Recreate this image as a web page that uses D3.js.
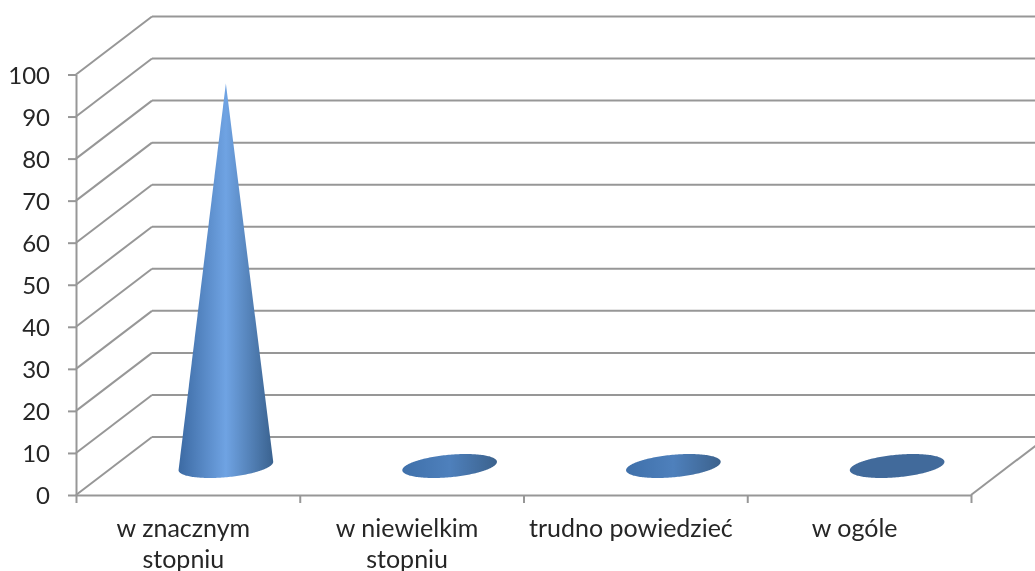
<!DOCTYPE html>
<html>
<head>
<meta charset="utf-8">
<script src="https://cdn.jsdelivr.net/npm/d3@7"></script>
<style>
  html, body { margin: 0; padding: 0; background: #fff; overflow: hidden; }
  text { font-family: Lato, "Open Sans", sans-serif; fill: #262626; }
  svg { filter: blur(0.45px); }
</style>
</head>
<body>
<main></main>
<script>
const categories = ['w znacznym', 'w niewielkim', 'trudno powiedzieć', 'w ogóle']
const categoryLabels = [['w znacznym', 'stopniu'], ['w niewielkim', 'stopniu'], ['trudno powiedzieć'], ['w ogóle']]
const values = [91, 2.5, 2.5, 0]
const yTicks = [0, 10, 20, 30, 40, 50, 60, 70, 80, 90, 100]

const width = 1035
const height = 571
const plot = { left: 76, right: 971, top: 74.5, bottom: 495 }
const depth = { x: 76, y: -58 }
const gridColor = '#979797'
const base = { rx: 47.5, ry: 11.2, angle: -5.3 }

const svg = d3.select('main')
              .append('svg')
              .attr('width', width)
              .attr('height', height)
              .style('display', 'block')

const x = d3.scaleBand()
            .domain(categories)
            .range([plot.left, plot.right])
const xEdges = d3.scaleLinear()
                 .domain([0, categories.length])
                 .range([plot.left, plot.right])
const y = d3.scaleLinear()
            .domain([0, 100])
            .range([plot.bottom, plot.top])

const defs = svg.append('defs')

const addGradient = (id, stops) => {
  defs.append('linearGradient')
      .attr('id', id)
      .selectAll('stop')
      .data(stops)
      .enter()
      .append('stop')
      .attr('offset', d => d[0])
      .attr('stop-color', d => d[1])
}
addGradient('coneTall', [[0, '#3c6aa3'], [0.5, '#6fa3e3'], [1, '#3a628f']])
addGradient('coneLow', [[0, '#3f70aa'], [0.5, '#4e80bc'], [1, '#3c628d']])

// side wall and back wall gridlines
const grid = svg.append('g')
grid.selectAll('.side')
    .data(yTicks)
    .enter()
    .append('line')
    .attr('x1', plot.left)
    .attr('y1', d => y(d))
    .attr('x2', plot.left + depth.x)
    .attr('y2', d => y(d) + depth.y)
    .attr('stroke', gridColor)
    .attr('stroke-width', 2)
grid.selectAll('.back')
    .data(yTicks)
    .enter()
    .append('line')
    .attr('x1', plot.left + depth.x)
    .attr('y1', d => y(d) + depth.y)
    .attr('x2', plot.right + depth.x)
    .attr('y2', d => y(d) + depth.y)
    .attr('stroke', gridColor)
    .attr('stroke-width', 2)
grid.append('line')
    .attr('x1', plot.right)
    .attr('y1', y(0))
    .attr('x2', plot.right + depth.x)
    .attr('y2', y(0) + depth.y)
    .attr('stroke', gridColor)
    .attr('stroke-width', 2)

// a cone is the hull of its tilted base ellipse and its apex
const conePath = (d, i) => {
  const cx = x(categories[i]) + x.bandwidth() / 2 + depth.x / 2
  const cy = y(0) + depth.y / 2
  const a = base.angle * Math.PI / 180
  const pts = d3.range(0, 360, 2).map(t => {
    const r = t * Math.PI / 180
    const ex = base.rx * Math.cos(r)
    const ey = base.ry * Math.sin(r)
    return [cx + ex * Math.cos(a) - ey * Math.sin(a), cy + ex * Math.sin(a) + ey * Math.cos(a)]
  })
  pts.push([cx, cy - (y(0) - y(d))])
  return 'M' + d3.polygonHull(pts).join('L') + 'Z'
}

svg.append('g')
   .selectAll('path')
   .data(values)
   .enter()
   .append('path')
   .attr('d', conePath)
   .attr('fill', d => d > 50 ? 'url(#coneTall)' : d > 0 ? 'url(#coneLow)' : '#416a9b')

const yAxis = svg.append('g')
                 .attr('transform', `translate(${plot.left}, 0)`)
                 .call(d3.axisLeft(y).tickValues(yTicks).tickSize(8).tickSizeOuter(0).tickPadding(18))
yAxis.selectAll('text').style('font-size', '24px').attr('dy', '0.36em')

const xAxis = svg.append('g')
                 .attr('transform', `translate(0, ${plot.bottom})`)
                 .call(d3.axisBottom(xEdges).ticks(categories.length).tickSize(8).tickSizeOuter(0).tickFormat(''))

svg.selectAll('.domain, .tick line')
   .attr('stroke', gridColor)
   .attr('stroke-width', 2)

// category labels sit a little left of the band centre, as in the picture
svg.append('g')
   .selectAll('text')
   .data(categoryLabels)
   .enter()
   .append('text')
   .attr('text-anchor', 'middle')
   .style('font-size', '25px')
   .attr('transform', (d, i) => `translate(${x(categories[i]) + x.bandwidth() / 2 - 4.5}, 537)`)
   .selectAll('tspan')
   .data(d => d)
   .enter()
   .append('tspan')
   .attr('x', 0)
   .attr('y', (d, i) => i * 31)
   .text(d => d)
</script>
</body>
</html>
